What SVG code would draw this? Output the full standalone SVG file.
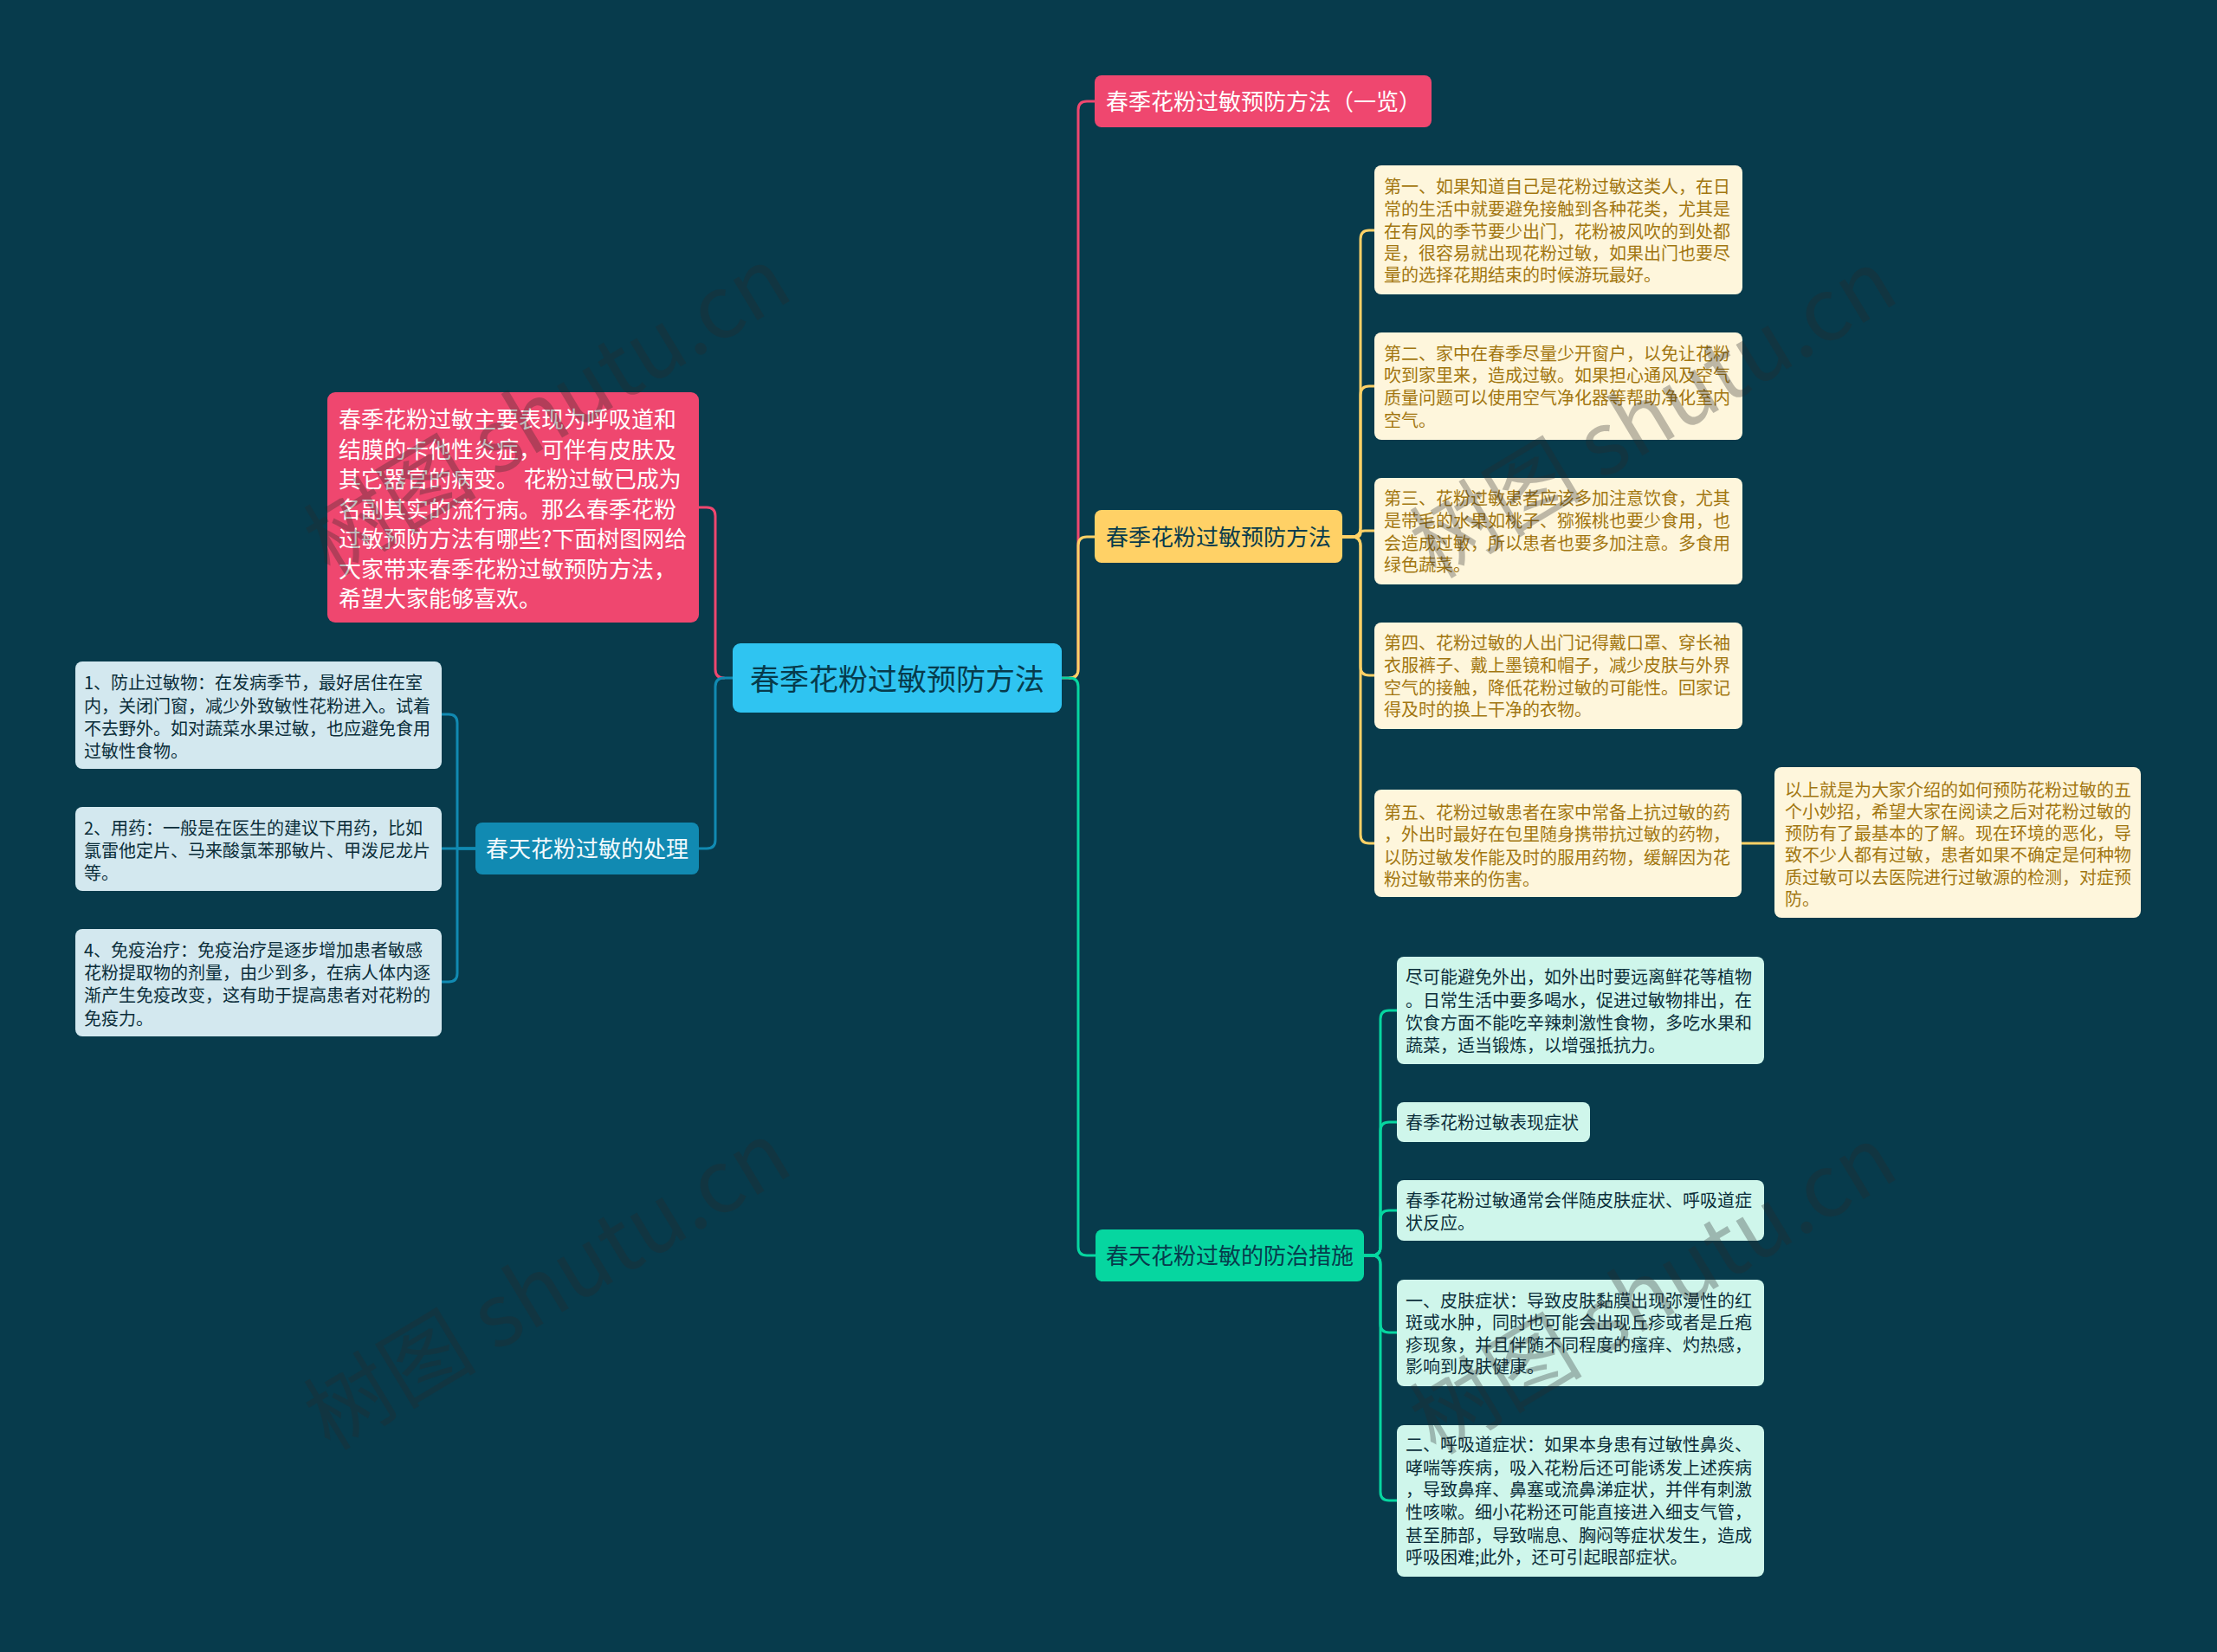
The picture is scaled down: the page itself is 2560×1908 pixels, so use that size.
<svg xmlns="http://www.w3.org/2000/svg" width="2560" height="1908" viewBox="0 0 2560 1908">
<style>
text{font-family:"Noto Sans CJK SC","Noto Sans",sans-serif;dominant-baseline:central}
.c{fill:none;stroke-width:3;stroke-linecap:round;stroke-linejoin:round}
.pk{stroke:#EF476F}.bl{stroke:#118AB2}.yl{stroke:#FFD166}.gr{stroke:#06D6A0}
.t20{font-size:20px}
.t26{font-size:26px}
.yb{fill:#FEF6DC}.yt{fill:#A27610}
.bb{fill:#D3E8EF}.bt{fill:#0B2E3A}
.gb{fill:#CFF6EB}.gt{fill:#0B2E3A}
.wm{font-size:100px;fill:#2a2a2a;opacity:0.3;dominant-baseline:auto}
</style>
<rect x="0" y="0" width="2560" height="1908" fill="#073B4C"/>
<g id="connectors">
<path class="c pk" d="M807,586 H816 Q826,586 826,596 V773 Q826,783 836,783"/>
<path class="c bl" d="M807,980 H816 Q826,980 826,970 V793 Q826,783 836,783 H846"/>
<path class="c bl" d="M549,980 H510"/>
<path class="c bl" d="M549,980 H528 V835 Q528,825 518,825 H510"/>
<path class="c bl" d="M549,980 H528 V1124 Q528,1134 518,1134 H510"/>
<path class="c pk" d="M1226,783 H1235 Q1245,783 1245,773 V127 Q1245,117 1255,117 H1264"/>
<path class="c yl" d="M1235,783 Q1245,783 1245,773 V630 Q1245,620 1255,620 H1264"/>
<path class="c gr" d="M1226,783 H1235 Q1245,783 1245,793 V1440 Q1245,1450 1255,1450 H1265"/>
<path class="c yl" d="M1550,620 H1561 Q1571,620 1571,610 V276 Q1571,266 1581,266 H1587"/>
<path class="c yl" d="M1550,620 H1561 Q1571,620 1571,610 V456 Q1571,446 1581,446 H1587"/>
<path class="c yl" d="M1550,620 H1566 Q1571,620 1571,616 Q1571,613 1576,613 H1587"/>
<path class="c yl" d="M1550,620 H1561 Q1571,620 1571,630 V770 Q1571,780 1581,780 H1587"/>
<path class="c yl" d="M1550,620 H1561 Q1571,620 1571,630 V964 Q1571,974 1581,974 H1587"/>
<path class="c yl" d="M2011,974 H2049"/>
<path class="c gr" d="M1575,1450 H1584 Q1594,1450 1594,1440 V1177 Q1594,1167 1604,1167 H1613"/>
<path class="c gr" d="M1575,1450 H1584 Q1594,1450 1594,1440 V1306 Q1594,1296 1604,1296 H1613"/>
<path class="c gr" d="M1575,1450 H1584 Q1594,1450 1594,1440 V1408 Q1594,1398 1604,1398 H1613"/>
<path class="c gr" d="M1575,1450 H1584 Q1594,1450 1594,1460 V1529 Q1594,1539 1604,1539 H1613"/>
<path class="c gr" d="M1575,1450 H1584 Q1594,1450 1594,1460 V1723 Q1594,1733 1604,1733 H1613"/>
</g>
<g id="center">
<rect x="846" y="743" width="380" height="80" rx="9" fill="#2FC4F1"/>
<text x="1036" y="782" font-size="34" fill="#073B4C" text-anchor="middle">春季花粉过敏预防方法</text>
</g>
<g id="intro">
<rect x="378" y="453" width="429" height="266" rx="9" fill="#EF476F"/>
<g class="t26" fill="#FFFFFF">
<text x="391" y="482">春季花粉过敏主要表现为呼吸道和</text>
<text x="391" y="517">结膜的卡他性炎症，可伴有皮肤及</text>
<text x="391" y="551">其它器官的病变。 花粉过敏已成为</text>
<text x="391" y="586">名副其实的流行病。那么春季花粉</text>
<text x="391" y="620">过敏预防方法有哪些?下面树图网给</text>
<text x="391" y="655">大家带来春季花粉过敏预防方法，</text>
<text x="391" y="689">希望大家能够喜欢。</text>
</g>
</g>
<g id="treatment">
<rect x="549" y="950" width="258" height="60" rx="8" fill="#118AB2"/>
<text x="678" y="978" class="t26" fill="#F2FAFD" text-anchor="middle">春天花粉过敏的处理</text>
</g>
<g id="treat1">
<rect x="87" y="764" width="423" height="124" rx="8" class="bb"/>
<g class="t20 bt">
<text x="97" y="787">1、防止过敏物：在发病季节，最好居住在室</text>
<text x="97" y="814">内，关闭门窗，减少外致敏性花粉进入。试着</text>
<text x="97" y="840">不去野外。如对蔬菜水果过敏，也应避免食用</text>
<text x="97" y="866">过敏性食物。</text>
</g>
</g>
<g id="treat2">
<rect x="87" y="932" width="423" height="97" rx="8" class="bb"/>
<g class="t20 bt">
<text x="97" y="955">2、用药：一般是在医生的建议下用药，比如</text>
<text x="97" y="981">氯雷他定片、马来酸氯苯那敏片、甲泼尼龙片</text>
<text x="97" y="1007">等。</text>
</g>
</g>
<g id="treat3">
<rect x="87" y="1073" width="423" height="124" rx="8" class="bb"/>
<g class="t20 bt">
<text x="97" y="1096">4、免疫治疗：免疫治疗是逐步增加患者敏感</text>
<text x="97" y="1122">花粉提取物的剂量，由少到多，在病人体内逐</text>
<text x="97" y="1148">渐产生免疫改变，这有助于提高患者对花粉的</text>
<text x="97" y="1175">免疫力。</text>
</g>
</g>
<g id="overview">
<rect x="1264" y="87" width="389" height="60" rx="8" fill="#EF476F"/>
<text x="1277" y="115" class="t26" fill="#FFFFFF">春季花粉过敏预防方法（一览）</text>
</g>
<g id="prevention">
<rect x="1264" y="589" width="286" height="61" rx="8" fill="#FFD166"/>
<text x="1407" y="618" class="t26" fill="#073B4C" text-anchor="middle">春季花粉过敏预防方法</text>
</g>
<g id="prev1">
<rect x="1587" y="191" width="425" height="149" rx="8" class="yb"/>
<g class="t20 yt">
<text x="1598" y="214">第一、如果知道自己是花粉过敏这类人，在日</text>
<text x="1598" y="240">常的生活中就要避免接触到各种花类，尤其是</text>
<text x="1598" y="266">在有风的季节要少出门，花粉被风吹的到处都</text>
<text x="1598" y="291">是，很容易就出现花粉过敏，如果出门也要尽</text>
<text x="1598" y="316">量的选择花期结束的时候游玩最好。</text>
</g>
</g>
<g id="prev2">
<rect x="1587" y="384" width="425" height="124" rx="8" class="yb"/>
<g class="t20 yt">
<text x="1598" y="407">第二、家中在春季尽量少开窗户，以免让花粉</text>
<text x="1598" y="432">吹到家里来，造成过敏。如果担心通风及空气</text>
<text x="1598" y="458">质量问题可以使用空气净化器等帮助净化室内</text>
<text x="1598" y="484">空气。</text>
</g>
</g>
<g id="prev3">
<rect x="1587" y="552" width="425" height="123" rx="8" class="yb"/>
<g class="t20 yt">
<text x="1598" y="574">第三、花粉过敏患者应该多加注意饮食，尤其</text>
<text x="1598" y="600">是带毛的水果如桃子、猕猴桃也要少食用，也</text>
<text x="1598" y="626">会造成过敏，所以患者也要多加注意。多食用</text>
<text x="1598" y="651">绿色蔬菜。</text>
</g>
</g>
<g id="prev4">
<rect x="1587" y="719" width="425" height="123" rx="8" class="yb"/>
<g class="t20 yt">
<text x="1598" y="741">第四、花粉过敏的人出门记得戴口罩、穿长袖</text>
<text x="1598" y="767">衣服裤子、戴上墨镜和帽子，减少皮肤与外界</text>
<text x="1598" y="793">空气的接触，降低花粉过敏的可能性。回家记</text>
<text x="1598" y="818">得及时的换上干净的衣物。</text>
</g>
</g>
<g id="prev5">
<rect x="1587" y="912" width="424" height="124" rx="8" class="yb"/>
<g class="t20 yt">
<text x="1598" y="937">第五、花粉过敏患者在家中常备上抗过敏的药</text>
<text x="1598" y="962">，外出时最好在包里随身携带抗过敏的药物，</text>
<text x="1598" y="989">以防过敏发作能及时的服用药物，缓解因为花</text>
<text x="1598" y="1014">粉过敏带来的伤害。</text>
</g>
</g>
<g id="prev6">
<rect x="2049" y="886" width="423" height="174" rx="8" class="yb"/>
<g class="t20 yt">
<text x="2061" y="911">以上就是为大家介绍的如何预防花粉过敏的五</text>
<text x="2061" y="936">个小妙招，希望大家在阅读之后对花粉过敏的</text>
<text x="2061" y="961">预防有了最基本的了解。现在环境的恶化，导</text>
<text x="2061" y="986">致不少人都有过敏，患者如果不确定是何种物</text>
<text x="2061" y="1012">质过敏可以去医院进行过敏源的检测，对症预</text>
<text x="2061" y="1037">防。</text>
</g>
</g>
<g id="measures">
<rect x="1265" y="1420" width="310" height="60" rx="8" fill="#06D6A0"/>
<text x="1420" y="1448" class="t26" fill="#073B4C" text-anchor="middle">春天花粉过敏的防治措施</text>
</g>
<g id="meas1">
<rect x="1613" y="1105" width="424" height="124" rx="8" class="gb"/>
<g class="t20 gt">
<text x="1623" y="1127">尽可能避免外出，如外出时要远离鲜花等植物</text>
<text x="1623" y="1154">。日常生活中要多喝水，促进过敏物排出，在</text>
<text x="1623" y="1180">饮食方面不能吃辛辣刺激性食物，多吃水果和</text>
<text x="1623" y="1206">蔬菜，适当锻炼，以增强抵抗力。</text>
</g>
</g>
<g id="meas2">
<rect x="1613" y="1273" width="223" height="46" rx="8" class="gb"/>
<text x="1623" y="1295" class="t20 gt">春季花粉过敏表现症状</text>
</g>
<g id="meas3">
<rect x="1613" y="1363" width="424" height="70" rx="8" class="gb"/>
<g class="t20 gt">
<text x="1623" y="1385">春季花粉过敏通常会伴随皮肤症状、呼吸道症</text>
<text x="1623" y="1411">状反应。</text>
</g>
</g>
<g id="meas4">
<rect x="1613" y="1478" width="424" height="123" rx="8" class="gb"/>
<g class="t20 gt">
<text x="1623" y="1501">一、皮肤症状：导致皮肤黏膜出现弥漫性的红</text>
<text x="1623" y="1526">斑或水肿，同时也可能会出现丘疹或者是丘疱</text>
<text x="1623" y="1552">疹现象，并且伴随不同程度的瘙痒、灼热感，</text>
<text x="1623" y="1577">影响到皮肤健康。</text>
</g>
</g>
<g id="meas5">
<rect x="1613" y="1646" width="424" height="175" rx="8" class="gb"/>
<g class="t20 gt">
<text x="1623" y="1667">二、呼吸道症状：如果本身患有过敏性鼻炎、</text>
<text x="1623" y="1694">哮喘等疾病，吸入花粉后还可能诱发上述疾病</text>
<text x="1623" y="1719">，导致鼻痒、鼻塞或流鼻涕症状，并伴有刺激</text>
<text x="1623" y="1745">性咳嗽。细小花粉还可能直接进入细支气管，</text>
<text x="1623" y="1772">甚至肺部，导致喘息、胸闷等症状发生，造成</text>
<text x="1623" y="1797">呼吸困难;此外，还可引起眼部症状。</text>
</g>
</g>
<g id="watermarks">
<text class="wm" x="650" y="505" text-anchor="middle" transform="rotate(-31 650 505)">树图 shutu.cn</text>
<text class="wm" x="1927" y="508" text-anchor="middle" transform="rotate(-31 1927 508)">树图 shutu.cn</text>
<text class="wm" x="650" y="1515" text-anchor="middle" transform="rotate(-31 650 1515)">树图 shutu.cn</text>
<text class="wm" x="1927" y="1520" text-anchor="middle" transform="rotate(-31 1927 1520)">树图 shutu.cn</text>
</g>
</svg>
